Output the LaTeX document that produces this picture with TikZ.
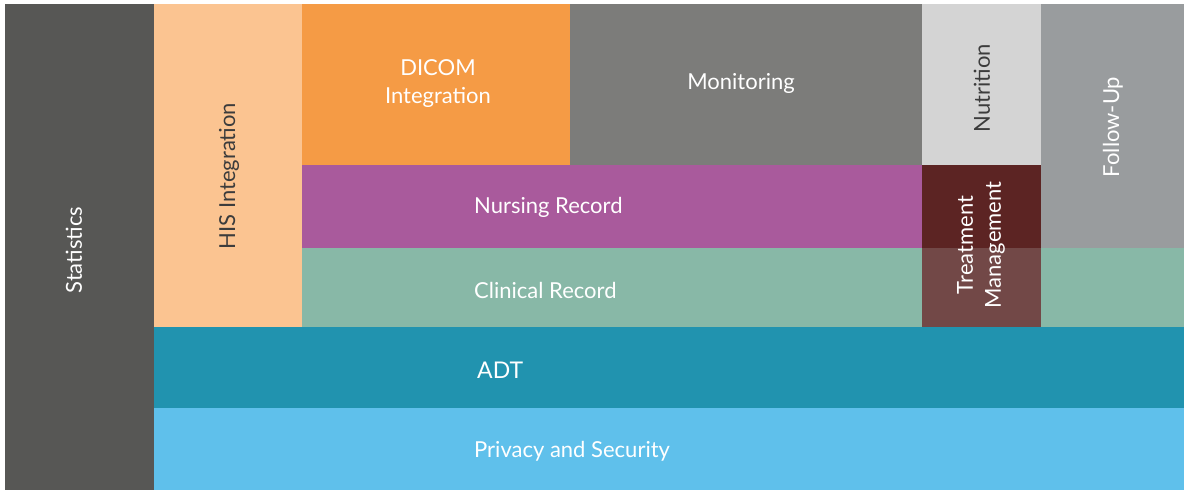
\documentclass[tikz,border=0pt]{standalone}
\usepackage{fontspec}
\setmainfont{Lato}
\definecolor{cStat}{HTML}{575755}
\definecolor{cHIS}{HTML}{FBC491}
\definecolor{cDicom}{HTML}{F59B45}
\definecolor{cMon}{HTML}{7C7C7A}
\definecolor{cNut}{HTML}{D4D4D4}
\definecolor{cFol}{HTML}{999C9E}
\definecolor{cNur}{HTML}{A95A9C}
\definecolor{cCli}{HTML}{88B8A7}
\definecolor{cTrA}{HTML}{5C2423}
\definecolor{cTrB}{HTML}{724847}
\definecolor{cADT}{HTML}{2193AF}
\definecolor{cPriv}{HTML}{5FC0EB}
\definecolor{cDark}{HTML}{3C3C3C}
\tikzset{
  lbl/.style={text=white, font=\fontsize{22}{28}\selectfont, inner sep=0pt},
  lbldark/.style={lbl, text=cDark},
  vert/.style={rotate=90},
}
\begin{document}
\begin{tikzpicture}[x=1pt,y=-1pt]
\fill[white] (0,0) rectangle (1184,490);
\useasboundingbox (0,0) rectangle (1184,490);
% blocks
\fill[cStat] (5,4) rectangle (154,490);
\fill[cHIS] (154,4) rectangle (302,327);
\fill[cDicom] (302,4) rectangle (570,165);
\fill[cMon] (570,4) rectangle (922,165);
\fill[cNut] (922,4) rectangle (1041,165);
\fill[cFol] (1041,4) rectangle (1184,247.5);
\fill[cNur] (302,165) rectangle (922,247.5);
\fill[cCli] (302,247.5) rectangle (1184,327);
\fill[cTrA] (922,165) rectangle (1041,247.5);
\fill[cTrB] (922,247.5) rectangle (1041,327);
\fill[cADT] (154,327) rectangle (1184,408);
\fill[cPriv] (154,408) rectangle (1184,490);
% labels
\node[lbl, vert] (stat) at (74,250) {Statistics};
\node[lbldark, vert] (his) at (229,176) {HIS Integration};
\node[lbl, align=center] (dicom) at (438,84) {DICOM\\Integration};
\node[lbl] (mon) at (741,83) {Monitoring};
\node[lbldark, vert] (nut) at (982,88) {Nutrition};
\node[lbl, vert] (fol) at (1113,127) {Follow-Up};
\node[lbl, anchor=west] (nur) at (474,207) {Nursing Record};
\node[lbl, anchor=west] (cli) at (474,290) {Clinical Record};
\node[lbl, vert, align=center] (tre) at (981,245) {Treatment\\Management};
\node[lbl, anchor=west, font=\fontsize{23}{28}\selectfont] (adt) at (477,370) {ADT};
\node[lbl, anchor=west] (priv) at (474,451) {Privacy and Security};
\end{tikzpicture}
\end{document}
